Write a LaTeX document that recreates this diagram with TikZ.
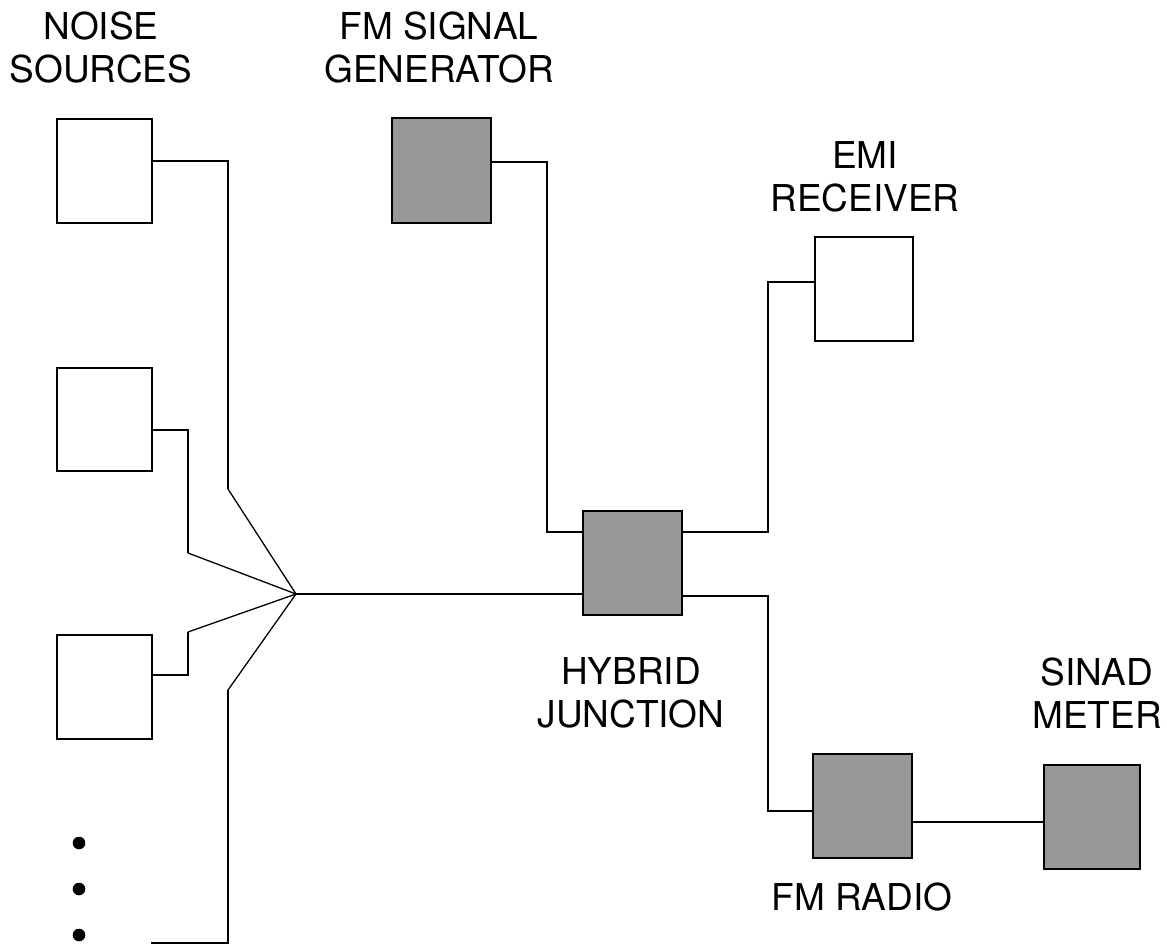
\documentclass[tikz,border=0pt]{standalone}
\usepackage{fontspec}
\setmainfont{TeX Gyre Heros}
\definecolor{boxgray}{RGB}{152,152,152}
\begin{document}
\begin{tikzpicture}[x=1pt,y=-1pt,
  box/.style={draw=black,line width=2.6pt,minimum width=95pt,minimum height=104pt,inner sep=0pt,outer sep=0pt},
  graybox/.style={box,fill=boxgray},
  wire/.style={line width=2.2pt,line join=miter},
  fan/.style={line width=1.3pt},
  lbl/.style={font=\fontsize{37}{43}\selectfont,align=center,inner sep=0pt}]
\useasboundingbox (0,0) rectangle (1167,944);

% boxes
\node[box] (n1) at (104.5,171) {};
\node[box,minimum height=103pt] (n2) at (104.5,419.5) {};
\node[box] (n3) at (104.5,687) {};
\node[graybox,minimum width=99pt,minimum height=105pt] (gen) at (441.5,170.5) {};
\node[box,minimum width=98pt] (emi) at (864,289) {};
\node[graybox,minimum width=99pt] (hyb) at (632.5,563) {};
\node[graybox,minimum width=99pt] (radio) at (862.5,806) {};
\node[graybox,minimum width=96pt] (sinad) at (1092,817) {};

% labels
\node[lbl] (tnoise) at (101,48) {NOISE\\SOURCES};
\node[lbl] (tgen) at (439,48) {FM SIGNAL\\GENERATOR};
\node[lbl] (temi) at (865,177) {EMI\\RECEIVER};
\node[lbl] (thyb) at (631,693) {HYBRID\\JUNCTION};
\node[lbl] (tsinad) at (1097,693) {SINAD\\METER};
\node[lbl] (tradio) at (862,897) {FM RADIO};

% coordinates
\coordinate (J) at (296,594);
\coordinate (b0) at (151,943);

% noise fan-in
\draw[wire] ([yshift=10pt]n1.east) -| (228,489);
\draw[fan] (228,489) -- (J);
\draw[wire] ([yshift=-10.5pt]n2.east) -| (188,553);
\draw[fan] (188,553) -- (J);
\draw[wire] ([yshift=12pt]n3.east) -| (188,632);
\draw[fan] (188,632) -- (J);
\draw[wire] (b0) -| (228,690);
\draw[fan] (228,690) -- (J);
\draw[line width=2pt] (J) -- (J -| hyb.west);

% other connections
\draw[wire] ([yshift=8.5pt]gen.east) -| (547,532) -- ([yshift=31pt]hyb.west);
\draw[wire] ([yshift=31pt]hyb.east) -| (768,282) -- ([yshift=7pt]emi.west);
\draw[wire] ([yshift=-33pt]hyb.east) -| (768,811) -- ([yshift=-5pt]radio.west);
\draw[wire] ([yshift=-16pt]radio.east) -- ([yshift=-5pt]sinad.west);

% dots
\fill (79,843) circle (6.3pt);
\fill (79,889) circle (6.3pt);
\fill (79,935) circle (6.3pt);
\end{tikzpicture}
\end{document}
